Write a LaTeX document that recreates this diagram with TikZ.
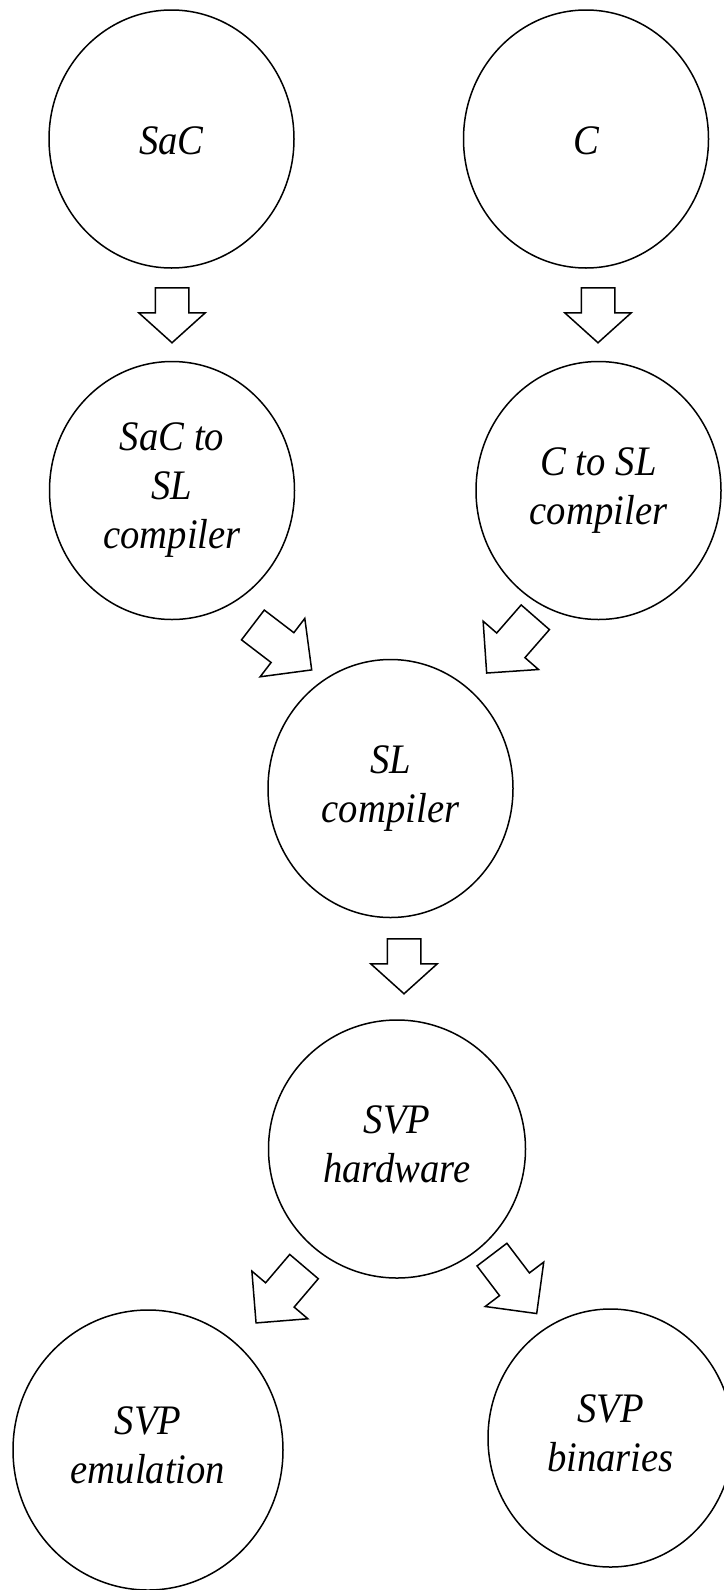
\documentclass[tikz,border=0pt]{standalone}
\usepackage{fontspec}
\setmainfont[FakeStretch=0.92]{Liberation Serif}
\usetikzlibrary{shapes.geometric,shapes.arrows}
\newcommand\bubblestrut{\rule[-9pt]{0pt}{49pt}}
\begin{document}
\begin{tikzpicture}
[x=1pt, y=1pt, line width=1.5pt,
bubble/.style={draw, ellipse, inner sep=0pt, minimum width=245pt, minimum height=258pt, align=center, font=\fontsize{42}{49}\selectfont\itshape, execute at begin node=\bubblestrut, execute at end node=\bubblestrut},
vblock/.style={draw, single arrow, inner sep=0pt, text height=32pt, text depth=0pt, minimum width=0pt, single arrow head extend=16.5pt, single arrow tip angle=96, minimum height=55pt, anchor=tail},
dblock/.style={draw, single arrow, inner sep=0pt, text height=36pt, text depth=0pt, minimum width=0pt, single arrow head extend=18pt, minimum height=74pt, anchor=tail}]
\useasboundingbox (0,0) rectangle (723,-1590);
\node [bubble] (sac) at (171.5,-139) {SaC};
\node [bubble] (c) at (586,-139) {C};
\node [bubble] (sactosl) at (172,-490.5) {SaC to\\SL\\compiler};
\node [bubble] (ctosl) at (598.5,-490.5) {C to SL\\compiler};
\node [bubble] (slc) at (390.5,-788.5) {SL\\compiler};
\node [bubble, minimum width=257pt] (hw) at (397,-1149) {SVP\\hardware};
\node [bubble, minimum width=270pt, minimum height=280pt] (emu) at (148,-1450) {SVP\\emulation};
\node [bubble] (bin) at (610.5,-1438) {SVP\\binaries};
\node [vblock, rotate=-90] (arrsac) at (172,-287) {};
\node [vblock, rotate=-90] (arrc) at (598,-287) {};
\node [dblock, rotate=-37.4] (arrsactosl) at (252.3,-624.5) {};
\node [dblock, rotate=-131.1] (arrctosl) at (535.8,-616.7) {};
\node [vblock, rotate=-90] (arrslc) at (404,-938) {};
\node [dblock, rotate=-130.4] (arremu) at (304.5,-1266) {};
\node [dblock, rotate=-52.8] (arrbin) at (491.5,-1254) {};
\end{tikzpicture}
\end{document}
